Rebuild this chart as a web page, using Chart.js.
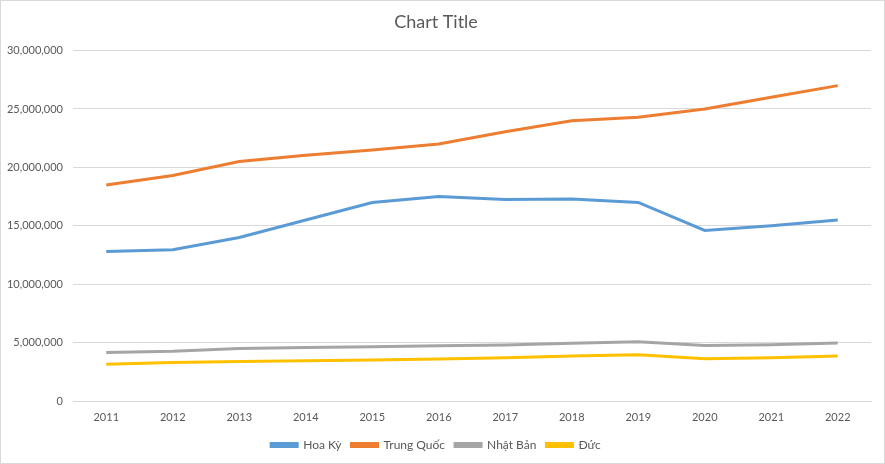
<!DOCTYPE html>
<html>
<head>
<meta charset="utf-8">
<script src="https://cdn.jsdelivr.net/npm/chart.js@4"></script>
<style>
  html, body { margin: 0; padding: 0; background: #fff; }
  #wrap { width: 883px; height: 462px; border: 1px solid #d9d9d9; }
</style>
</head>
<body>
<div id="wrap"><canvas id="myChart" width="883" height="462"></canvas></div>
<script>
// data doc tu hinh
var years = ['2011', '2012', '2013', '2014', '2015', '2016', '2017', '2018', '2019', '2020', '2021', '2022'];
var hoaKy = [12800000, 12950000, 14000000, 15500000, 17000000, 17500000, 17250000, 17300000, 17000000, 14600000, 15000000, 15500000];
var trungQuoc = [18500000, 19300000, 20500000, 21050000, 21500000, 22000000, 23050000, 24000000, 24300000, 25000000, 26000000, 27000000];
var nhatBan = [4150000, 4250000, 4500000, 4580000, 4650000, 4720000, 4800000, 4950000, 5080000, 4750000, 4820000, 4970000];
var duc = [3150000, 3300000, 3380000, 3450000, 3520000, 3600000, 3700000, 3850000, 3950000, 3620000, 3700000, 3850000];
var yTicks = [0, 5000000, 10000000, 15000000, 20000000, 25000000, 30000000];

var textColor = '#595959';
var fontName = 'Lato, "Open Sans", sans-serif';

function makeSet(label, data, color) {
  return {
    label: label,
    data: data,
    borderColor: color,
    backgroundColor: color,
    borderWidth: 3,
    pointRadius: 0,
    fill: false,
    tension: 0
  };
}

var ctx = document.getElementById('myChart').getContext('2d');

var myChart = new Chart(ctx, {
  type: 'line',
  data: {
    labels: years,
    datasets: [
      makeSet('Hoa Kỳ', hoaKy, '#5B9BD5'),
      makeSet('Trung Quốc', trungQuoc, '#ED7D31'),
      makeSet('Nhật Bản', nhatBan, '#A5A5A5'),
      makeSet('Đức', duc, '#FFC000')
    ]
  },
  options: {
    responsive: false,
    animation: false,
    layout: { padding: { left: 0, right: 13, top: 0, bottom: 2 } },
    plugins: {
      title: {
        display: true,
        text: 'Chart Title',
        color: textColor,
        font: { family: fontName, size: 18, weight: 'normal' },
        padding: { top: 10, bottom: 18 }
      },
      legend: {
        position: 'bottom',
        labels: {
          color: textColor,
          font: { family: fontName, size: 12 },
          boxWidth: 26,
          boxHeight: 3,
          padding: 10
        }
      },
      tooltip: { enabled: false }
    },
    scales: {
      x: {
        offset: true,
        grid: { display: false, drawTicks: false },
        border: { color: '#d9d9d9' },
        ticks: { color: textColor, font: { family: fontName, size: 11 }, padding: 10, maxRotation: 0 },
        afterFit: function (scale) { scale.height = 28; }
      },
      y: {
        min: 0,
        max: 30000000,
        afterBuildTicks: function (scale) {
          scale.ticks = yTicks.map(function (v) { return { value: v }; });
        },
        grid: { color: '#d9d9d9', drawTicks: false },
        border: { display: false },
        ticks: {
          color: textColor,
          font: { family: fontName, size: 11 },
          padding: 10,
          callback: function (value) {
            return value.toLocaleString('en-US');
          }
        },
        afterFit: function (scale) { scale.width = 72; }
      }
    }
  }
});
</script>
</body>
</html>
